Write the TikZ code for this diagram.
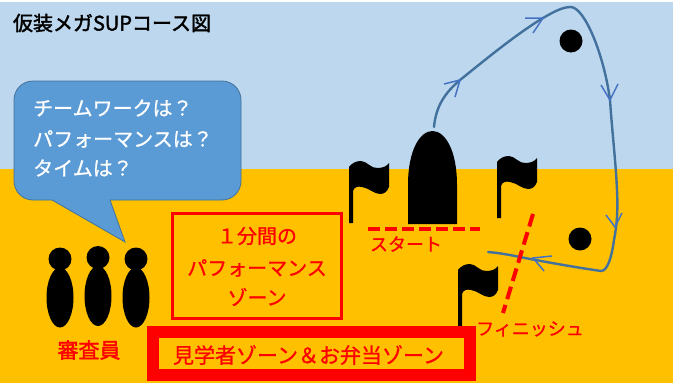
\documentclass[tikz,border=0pt]{standalone}
\usepackage{fontspec}
\setmainfont{Noto Sans CJK JP}
\newfontfamily\medfont[FakeBold=1]{Noto Sans CJK JP}
\newfontfamily\heavyfont[FakeBold=2]{Noto Sans CJK JP}
\definecolor{sky}{HTML}{BDD7EE}
\definecolor{ground}{HTML}{FFC000}
\definecolor{bubble}{HTML}{5B9BD5}
\definecolor{bubbleedge}{HTML}{41719C}
\definecolor{chev}{HTML}{4472C4}
\definecolor{course}{HTML}{41719C}
\tikzset{
  px/.style={font=\fontsize{#1}{#1}\selectfont\medfont, inner sep=0pt},
  pxheavy/.style={font=\fontsize{#1}{#1}\selectfont\heavyfont, inner sep=0pt},
  redtext/.style={px=#1, text=red},
  courseline/.style={draw=course, line width=2.4pt, line cap=round, line join=round},
  chevron/.style={draw=chev, line width=1.5pt, line join=miter},
  reddash/.style={draw=red, line width=#1},
  person/.style={fill=black, draw=none},
  flagpic/.pic={
    \fill[black] (0,6) .. controls (3,2) and (7,0) .. (12,0)
      .. controls (18,0) and (22,8) .. (29,7)
      .. controls (34,7) and (38,5) .. (40,2)
      -- (40,26) .. controls (38,31) and (35,33) .. (31,33)
      .. controls (25,33) and (20,27) .. (13,26)
      .. controls (9,25) and (5,26) .. (4,30)
      -- (4,62) -- (0,62) -- cycle;
  }
}
\begin{document}
\begin{tikzpicture}[x=1pt,y=-1pt]
\useasboundingbox (0,0) rectangle (673,383);
\fill[white] (0,0) rectangle (673,383);
\fill[sky] (0,2) rectangle (673,169);
\fill[ground] (0,169) rectangle (673,383);

\node[pxheavy=20, anchor=center] (title) at (112,23) {仮装メガSUPコース図};

% callout
\draw[fill=bubble, draw=bubbleedge, line width=0.8pt]
  (33,81) -- (222,81) arc[start angle=90,end angle=0,radius=19,y radius=-19] -- (241,181)
  arc[start angle=0,end angle=-90,radius=19,y radius=-19] -- (110,200) -- (125,242) -- (52,200) -- (33,200)
  arc[start angle=-90,end angle=-180,radius=19,y radius=-19] -- (14,100)
  arc[start angle=180,end angle=90,radius=19,y radius=-19] -- cycle;
\node[px=20, text=white, anchor=west] (q1) at (33,108) {チームワークは？};
\node[px=20, text=white, anchor=west] (q2) at (33,139) {パフォーマンスは？};
\node[px=20, text=white, anchor=west] (q3) at (33,168) {タイムは？};

% judges
\foreach \n/\x/\dy in {a/60/0,b/98/-1.5,c/136/0}{
  \fill[person] (\x,259+\dy) circle[radius=11.5];
  \fill[person] (\x,297.5+\dy) ellipse[x radius=13.5,y radius=30];
}
\node[pxheavy=21, text=red] (judge) at (89,350) {審査員};

% zones
\draw[draw=red, line width=3pt] (172,213) rectangle (341,318);
\node[redtext=20] (z1) at (257,236) {１分間の};
\node[redtext=20] (z2) at (257,268) {パフォーマンス};
\node[redtext=20] (z3) at (257,297) {ゾーン};

% flags (under the visitors' zone)
\pic at (349,161) {flagpic};
\pic at (497,156) {flagpic};
\pic at (458,264) {flagpic};

\draw[draw=red, line width=12pt] (153,332) rectangle (470,375);
\node[redtext=21] (z4) at (308.5,355) {見学者ゾーン＆お弁当ゾーン};

% door and buoys
\fill[black] (408,224) -- (408,185) .. controls (408,150) and (420,131) .. (432.5,131)
  .. controls (445,131) and (457,150) .. (457,185) -- (457,224) -- cycle;
\fill[black] (571,41) circle[radius=11.5];
\fill[black] (580,239) circle[radius=11.5];

% course
\draw[courseline] (434,127) .. controls (436,105) and (446,92) .. (460,80)
  .. controls (485,60) and (515,35) .. (543,18)
  .. controls (555,11) and (563,7) .. (571,7)
  .. controls (585,8) and (604,55) .. (610,100)
  .. controls (612,130) and (616,165) .. (617,190)
  .. controls (618,210) and (617,225) .. (614,240)
  .. controls (612,255) and (608,271) .. (601,271)
  .. controls (580,268) and (545,262) .. (520,257)
  .. controls (510,255) and (500,253) .. (488,252);
\draw[chevron] (444,84) -- (460,80) -- (455,97);
\draw[chevron] (525,18) -- (543,18) -- (533,33);
\draw[chevron] (601,85) -- (610,100) -- (618,84);
\draw[chevron] (606,215) -- (615,227) -- (622,213);
\draw[chevron] (552,256) -- (533,258) -- (544,271);

% start and finish lines
\draw[reddash=3.5pt, dash pattern=on 12pt off 5pt] (368,229) -- (480,229);
\draw[reddash=4pt, dash pattern=on 13pt off 6pt] (533,214) -- (503,313);
\node[redtext=18] (start) at (406,244) {スタート};
\node[redtext=18] (finish) at (530,329) {フィニッシュ};
\end{tikzpicture}
\end{document}
